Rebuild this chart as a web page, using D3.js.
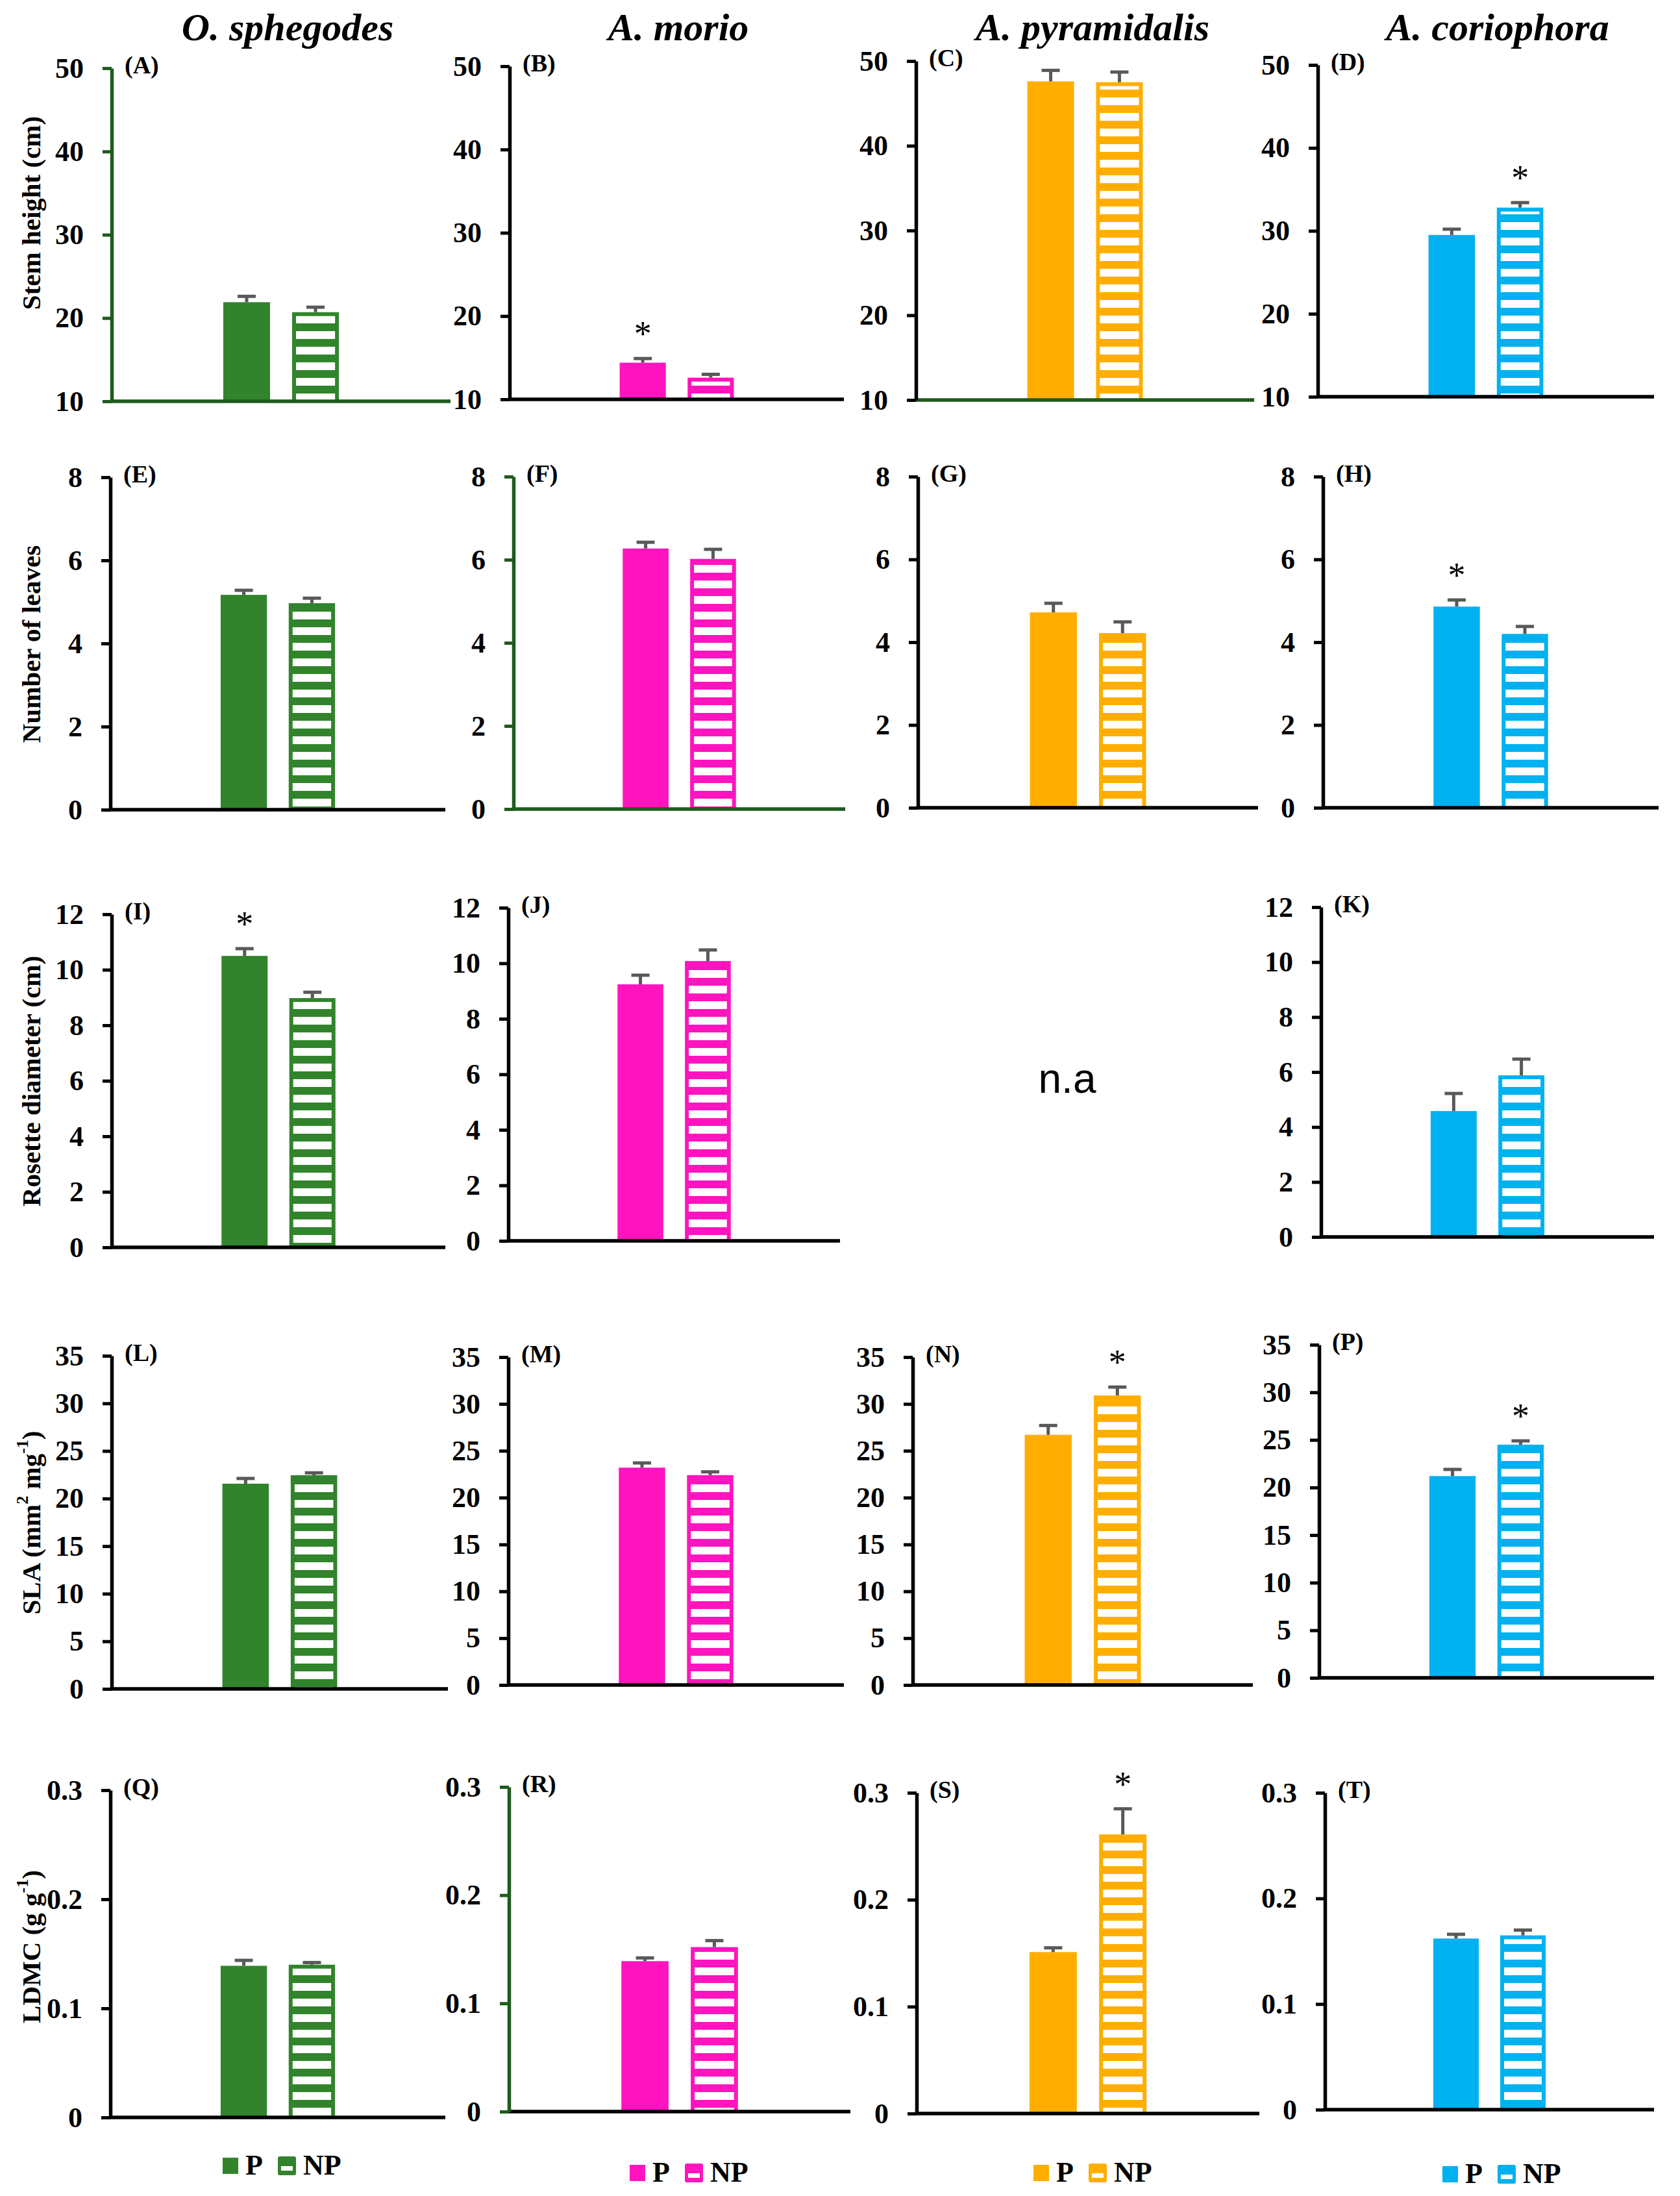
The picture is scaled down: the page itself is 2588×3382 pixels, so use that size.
<!DOCTYPE html>
<html>
<head>
<meta charset="utf-8">
<script src="https://cdnjs.cloudflare.com/ajax/libs/d3/7.8.5/d3.min.js"></script>
<style>
  html, body { margin: 0; padding: 0; background: #fff; }
  svg text { font-family: "Liberation Serif", "Times New Roman", serif; }
</style>
</head>
<body>
<svg id="chart"></svg>
<script>
// species (columns) and treatments
const species = ["O. sphegodes", "A. morio", "A. pyramidalis", "A. coriophora"];
const groups = ["P", "NP"];
const speciesColors = ["#31842b", "#ff14bf", "#ffae00", "#00b1f0"];

// traits (rows)
const traitLabels = ["Stem height (cm)", "Number of leaves", "Rosette diameter (cm)", "SLA", "LDMC"];
const panelLetters = [
  ["A", "B", "C", "D"],
  ["E", "F", "G", "H"],
  ["I", "J", null, "K"],
  ["L", "M", "N", "P"],
  ["Q", "R", "S", "T"]
];

// values, one entry per species (null = not available)
const stemP = [21.9, 14.4, 47.6, 29.5];
const stemPErr = [0.7, 0.5, 1.3, 0.7];
const stemNP = [20.7, 12.6, 47.5, 32.8];
const stemNPErr = [0.6, 0.4, 1.2, 0.6];

const leavesP = [5.17, 6.27, 4.72, 4.86];
const leavesPErr = [0.11, 0.15, 0.22, 0.16];
const leavesNP = [4.97, 6.02, 4.22, 4.2];
const leavesNPErr = [0.12, 0.23, 0.27, 0.18];

const rosetteP = [10.5, 9.24, null, 4.58];
const rosettePErr = [0.26, 0.33, null, 0.64];
const rosetteNP = [8.98, 10.08, null, 5.88];
const rosetteNPErr = [0.21, 0.4, null, 0.59];

const slaP = [21.56, 23.2, 26.7, 21.2];
const slaPErr = [0.55, 0.5, 1.0, 0.7];
const slaNP = [22.45, 22.4, 30.9, 24.5];
const slaNPErr = [0.25, 0.35, 0.9, 0.4];

const ldmcP = [0.139, 0.139, 0.151, 0.162];
const ldmcPErr = [0.005, 0.003, 0.004, 0.004];
const ldmcNP = [0.140, 0.152, 0.261, 0.165];
const ldmcNPErr = [0.002, 0.006, 0.024, 0.005];

// significance stars: which treatment carries the asterisk
const stemStar = [null, "P", null, "NP"];
const leavesStar = [null, null, null, "P"];
const rosetteStar = ["P", null, null, null];
const slaStar = [null, null, "NP", "NP"];
const ldmcStar = [null, null, "NP", null];

// y axis ticks (first and last give the domain)
const stemTicks = [10, 20, 30, 40, 50];
const leavesTicks = [0, 2, 4, 6, 8];
const rosetteTicks = [0, 2, 4, 6, 8, 10, 12];
const slaTicks = [0, 5, 10, 15, 20, 25, 30, 35];
const ldmcTicks = [0, 0.1, 0.2, 0.3];

const rows = [
  {P: stemP, PE: stemPErr, NP: stemNP, NPE: stemNPErr, star: stemStar, ticks: stemTicks, fmt: d3.format("d")},
  {P: leavesP, PE: leavesPErr, NP: leavesNP, NPE: leavesNPErr, star: leavesStar, ticks: leavesTicks, fmt: d3.format("d")},
  {P: rosetteP, PE: rosettePErr, NP: rosetteNP, NPE: rosetteNPErr, star: rosetteStar, ticks: rosetteTicks, fmt: d3.format("d")},
  {P: slaP, PE: slaPErr, NP: slaNP, NPE: slaNPErr, star: slaStar, ticks: slaTicks, fmt: d3.format("d")},
  {P: ldmcP, PE: ldmcPErr, NP: ldmcNP, NPE: ldmcNPErr, star: ldmcStar, ticks: ldmcTicks, fmt: d => d === 0 ? "0" : d3.format(".1f")(d)}
];

// ---- layout (pixels) ----
const W = 2588, H = 3382;
const serif = "'Liberation Serif', 'Times New Roman', serif";
// [axis x, plot top, plot bottom, x-axis end]
const boxes = [
  [[172, 105, 618, 694], [785, 102, 615, 1300], [1411, 94, 616, 1932], [2030, 100, 611, 2548]],
  [[170, 735, 1247, 686], [791, 734, 1246, 1302], [1414, 734, 1244, 1938], [2038, 734, 1244, 2555]],
  [[172, 1408, 1921, 686], [783, 1398, 1911, 1294], null, [2035, 1397, 1905, 2548]],
  [[172, 2088, 2601, 690], [783, 2090, 2595, 1300], [1406, 2090, 2595, 1930], [2032, 2071, 2584, 2548]],
  [[170, 2757, 3261, 686], [784, 2752, 3252, 1310], [1412, 2761, 3255, 1940], [2041, 2761, 3249, 2548]]
];
const G = "#1e5b1e", K = "#000";
// [y axis colour, x axis colour]
const axisColors = [
  [[G, G], [K, K], [K, G], [K, K]],
  [[K, K], [G, G], [K, K], [K, K]],
  [[K, K], [K, K], null, [K, K]],
  [[K, K], [K, K], [K, K], [K, K]],
  [[K, K], [G, K], [K, K], [K, K]]
];
const titleX = [443, 1045, 1683, 2307];
const yTitleCenter = [328, 992, 1665, 2345, 2998];
const legendPos = [[343, 3335], [970, 3346], [1592, 3346], [2222, 3348]];
const errColor = "#595959";

const svg = d3.select("#chart").attr("width", W).attr("height", H);
svg.append("rect").attr("width", W).attr("height", H).attr("fill", "#fff");

// stripe patterns for NP bars
const defs = svg.append("defs");
speciesColors.forEach((c, i) => {
  const p = defs.append("pattern")
    .attr("id", "stripe" + i)
    .attr("patternUnits", "userSpaceOnUse")
    .attr("width", 40).attr("height", 24);
  p.append("rect").attr("width", 40).attr("height", 24).attr("fill", c);
  p.append("rect").attr("y", 6).attr("width", 40).attr("height", 12).attr("fill", "#fff");
});

// column titles
svg.selectAll(".title")
  .data(species)
  .enter().append("text")
  .attr("class", "title")
  .attr("x", (d, i) => titleX[i])
  .attr("y", 62)
  .attr("text-anchor", "middle")
  .attr("font-size", 60)
  .attr("font-weight", "bold")
  .attr("font-style", "italic")
  .text(d => d);

// y axis titles
traitLabels.forEach((lab, r) => {
  const t = svg.append("text")
    .attr("transform", `translate(48,${yTitleCenter[r]}) rotate(-90)`)
    .attr("text-anchor", "middle")
    .attr("dominant-baseline", "central")
    .attr("font-size", 41)
    .attr("font-weight", "bold");
  if (lab === "SLA") {
    t.append("tspan").text("SLA (mm");
    t.append("tspan").attr("font-size", 26).attr("dy", -14).text("2");
    t.append("tspan").attr("dy", 14).text(" mg");
    t.append("tspan").attr("font-size", 26).attr("dy", -14).text("-1");
    t.append("tspan").attr("dy", 14).text(")");
  } else if (lab === "LDMC") {
    t.append("tspan").text("LDMC (g g");
    t.append("tspan").attr("font-size", 26).attr("dy", -14).text("-1");
    t.append("tspan").attr("dy", 14).text(")");
  } else {
    t.text(lab);
  }
});

rows.forEach((row, r) => {
  species.forEach((sp, c) => {
    const box = boxes[r][c];
    if (!box || row.P[c] == null) {
      // no data for this panel
      svg.append("text")
        .attr("x", 1644).attr("y", 1661)
        .attr("text-anchor", "middle")
        .attr("dominant-baseline", "central")
        .attr("font-size", 64)
        .style("font-family", "'Liberation Sans', Arial, sans-serif")
        .text("n.a");
      return;
    }
    const [ax, top, bottom, xEnd] = box;
    const [yCol, xCol] = axisColors[r][c];
    const color = speciesColors[c];
    const ticks = row.ticks;

    const y = d3.scaleLinear()
      .domain([ticks[0], ticks[ticks.length - 1]])
      .range([bottom, top]);
    const x = d3.scaleBand()
      .domain(groups)
      .range([ax, xEnd])
      .paddingInner(0.32)
      .paddingOuter(1.62);

    const g = svg.append("g");

    // bars
    const vals = groups.map(k => ({key: k, v: row[k][c], e: row[k + "E"][c]}));
    g.selectAll(".bar")
      .data(vals)
      .enter().append("rect")
      .attr("class", "bar")
      .attr("x", d => x(d.key))
      .attr("y", d => y(d.v))
      .attr("width", x.bandwidth())
      .attr("height", d => y(ticks[0]) - y(d.v))
      .attr("fill", color);
    // white stripes inside NP bars
    g.selectAll(".inner")
      .data(vals.filter(d => d.key === "NP"))
      .enter().append("rect")
      .attr("x", d => x(d.key) + 6)
      .attr("y", d => y(d.v) + 6)
      .attr("width", x.bandwidth() - 12)
      .attr("height", d => y(ticks[0]) - y(d.v) - 6)
      .attr("fill", `url(#stripe${c})`);

    // error bars
    g.selectAll(".err")
      .data(vals)
      .enter().append("line")
      .attr("x1", d => x(d.key) + x.bandwidth() / 2)
      .attr("x2", d => x(d.key) + x.bandwidth() / 2)
      .attr("y1", d => y(d.v))
      .attr("y2", d => y(d.v + d.e))
      .attr("stroke", errColor)
      .attr("stroke-width", 5);
    g.selectAll(".cap")
      .data(vals)
      .enter().append("line")
      .attr("x1", d => x(d.key) + x.bandwidth() / 2 - 14)
      .attr("x2", d => x(d.key) + x.bandwidth() / 2 + 14)
      .attr("y1", d => y(d.v + d.e))
      .attr("y2", d => y(d.v + d.e))
      .attr("stroke", errColor)
      .attr("stroke-width", 5);

    // asterisk
    const s = row.star[c];
    if (s) {
      const d = vals.find(v => v.key === s);
      g.append("text")
        .attr("x", x(s) + x.bandwidth() / 2)
        .attr("y", y(d.v + d.e) - 20)
        .attr("text-anchor", "middle")
        .attr("font-size", 54)
        .text("*");
    }

    // x axis line
    g.append("line")
      .attr("x1", ax).attr("x2", xEnd)
      .attr("y1", bottom).attr("y2", bottom)
      .attr("stroke", xCol)
      .attr("stroke-width", 5.5);

    // y axis
    const yAxis = g.append("g")
      .attr("transform", `translate(${ax},0)`)
      .call(d3.axisLeft(y).tickValues(ticks).tickFormat(row.fmt)
        .tickSize(14).tickSizeOuter(0).tickPadding(29))
      .attr("font-family", serif)
      .attr("font-size", 44);
    yAxis.select(".domain").attr("stroke", yCol).attr("stroke-width", 5.5);
    yAxis.selectAll(".tick line").attr("stroke", yCol).attr("stroke-width", 5);
    yAxis.selectAll(".tick text")
      .attr("fill", "#000")
      .attr("font-size", 44)
      .attr("font-weight", "bold")
      .style("font-family", serif);

    // panel letter
    g.append("text")
      .attr("x", ax + 20)
      .attr("y", top + 8)
      .attr("font-size", 38)
      .attr("font-weight", "bold")
      .text(`(${panelLetters[r][c]})`);
  });
});

// legends, one under each column
species.forEach((sp, c) => {
  const [lx, ly] = legendPos[c];
  const color = speciesColors[c];
  const lg = svg.append("g").attr("transform", `translate(${lx},${ly})`);
  lg.append("rect").attr("x", 0).attr("y", -12).attr("width", 24).attr("height", 25).attr("fill", color);
  lg.append("text").attr("x", 35).attr("y", 14).attr("font-size", 44).attr("font-weight", "bold").text(groups[0]);
  lg.append("rect").attr("x", 85).attr("y", -14).attr("width", 28).attr("height", 29).attr("rx", 3).attr("fill", color);
  lg.append("rect").attr("x", 90).attr("y", 1).attr("width", 18).attr("height", 7).attr("fill", "#fff");
  lg.append("text").attr("x", 124).attr("y", 14).attr("font-size", 44).attr("font-weight", "bold").text(groups[1]);
});
</script>
</body>
</html>
